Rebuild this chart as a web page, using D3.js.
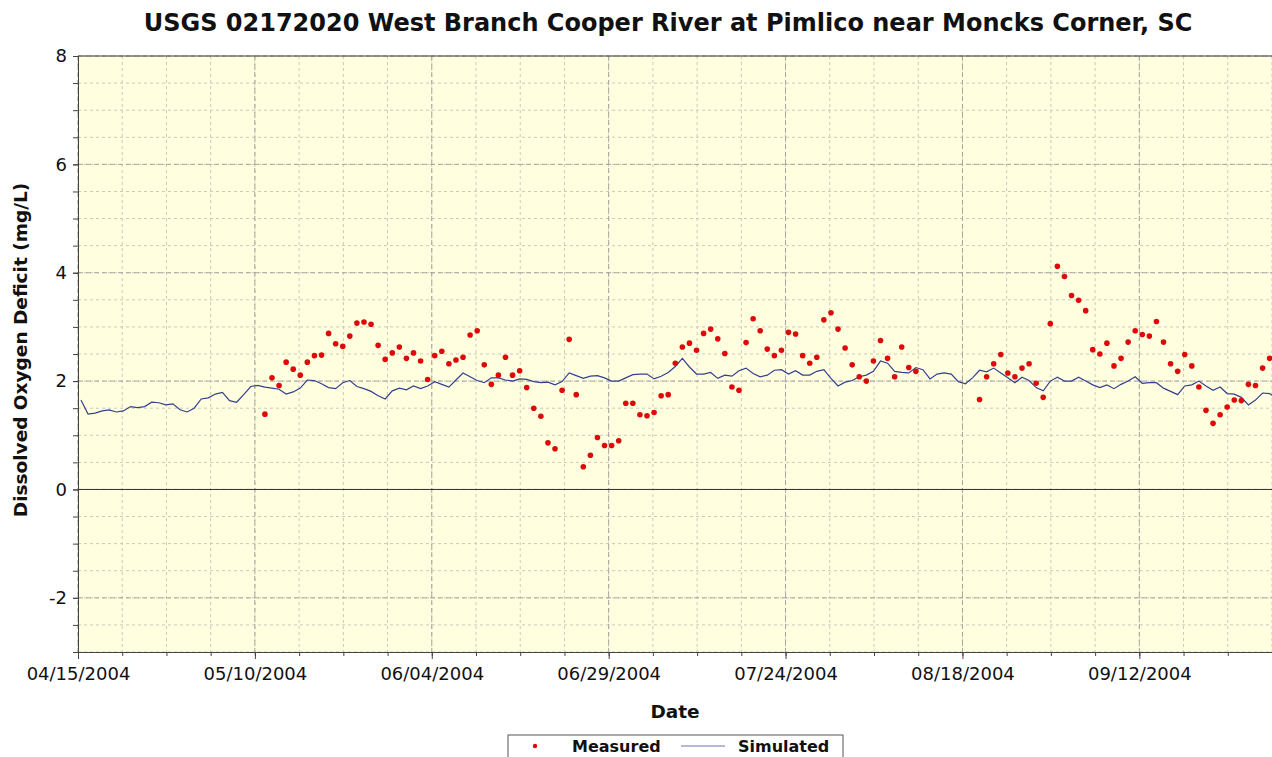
<!DOCTYPE html>
<html>
<head>
<meta charset="utf-8">
<script src="https://cdn.jsdelivr.net/npm/d3@7"></script>
<style>
  body { margin: 0; background: #fff; }
  svg { display: block; font-family: "DejaVu Sans", Verdana, sans-serif; }
</style>
</head>
<body>
<svg id="chart" width="1272" height="757"></svg>
<script>
// chart data
const title = 'USGS 02172020 West Branch Cooper River at Pimlico near Moncks Corner, SC';
const yLabel = 'Dissolved Oxygen Deficit (mg/L)';
const xLabel = 'Date';
const seriesNames = ['Measured', 'Simulated'];

const xStart = new Date(Date.UTC(2004, 3, 15));
const xEnd = new Date(Date.UTC(2004, 8, 30, 18));
const yMajorTicks = [-2, 0, 2, 4, 6, 8];

// simulated deficit, one value a day from 04/15/2004
const simStart = new Date(Date.UTC(2004, 3, 15, 10));
const simValues = [
    1.65, 1.39, 1.41, 1.45, 1.47, 1.43, 1.45, 1.53, 1.51, 1.53,
    1.61, 1.60, 1.56, 1.58, 1.47, 1.43, 1.50, 1.67, 1.69, 1.76,
    1.79, 1.64, 1.61, 1.75, 1.90, 1.92, 1.89, 1.87, 1.85, 1.76,
    1.80, 1.87, 2.02, 2.01, 1.95, 1.88, 1.86, 1.97, 2.01, 1.90,
    1.86, 1.81, 1.73, 1.67, 1.82, 1.87, 1.84, 1.91, 1.86, 1.91,
    1.99, 1.94, 1.89, 2.02, 2.15, 2.08, 2.01, 1.97, 2.06, 2.06,
    2.02, 2.00, 2.04, 2.03, 1.99, 1.97, 1.98, 1.93, 1.99, 2.15,
    2.10, 2.05, 2.09, 2.10, 2.06, 2.00, 2.00, 2.06, 2.12, 2.13,
    2.13, 2.04, 2.09, 2.16, 2.27, 2.42, 2.26, 2.13, 2.13, 2.16,
    2.05, 2.11, 2.09, 2.19, 2.24, 2.14, 2.08, 2.11, 2.20, 2.21,
    2.13, 2.19, 2.11, 2.11, 2.18, 2.21, 2.05, 1.91, 1.98, 2.01,
    2.08, 2.11, 2.18, 2.37, 2.33, 2.18, 2.16, 2.15, 2.25, 2.21,
    2.04, 2.13, 2.15, 2.13, 1.99, 1.95, 2.06, 2.20, 2.17, 2.24,
    2.15, 2.06, 1.97, 2.07, 2.01, 1.88, 1.82, 2.00, 2.07, 2.00,
    2.00, 2.07, 2.00, 1.93, 1.88, 1.93, 1.86, 1.94, 2.00, 2.08,
    1.96, 1.97, 1.97, 1.87, 1.81, 1.75, 1.91, 1.93, 2.00, 1.91,
    1.83, 1.89, 1.77, 1.76, 1.70, 1.56, 1.65, 1.78, 1.77, 1.68
];

// measured deficit, one value a day from 05/11/2004 (null = no sample)
const measStart = new Date(Date.UTC(2004, 4, 11, 10));
const measValues = [
    1.39, 2.06, 1.92, 2.35, 2.22, 2.11, 2.35, 2.47, 2.48, 2.88,
    2.69, 2.64, 2.83, 3.07, 3.09, 3.05, 2.66, 2.40, 2.52, 2.63,
    2.42, 2.52, 2.37, 2.03, 2.47, 2.55, 2.32, 2.39, 2.44, 2.85,
    2.93, 2.30, 1.94, 2.11, 2.44, 2.11, 2.19, 1.88, 1.50, 1.35,
    0.86, 0.75, 1.83, 2.77, 1.75, 0.42, 0.63, 0.96, 0.81, 0.81,
    0.90, 1.59, 1.59, 1.38, 1.36, 1.42, 1.73, 1.75, 2.33, 2.63,
    2.70, 2.57, 2.88, 2.96, 2.78, 2.51, 1.89, 1.83, 2.71, 3.15,
    2.93, 2.59, 2.47, 2.57, 2.90, 2.87, 2.47, 2.33, 2.44, 3.13,
    3.26, 2.96, 2.61, 2.30, 2.08, 2.00, 2.37, 2.75, 2.42, 2.08,
    2.63, 2.25, 2.18, null, null, null, null, null, null, null,
    null, 1.66, 2.08, 2.32, 2.49, 2.15, 2.08, 2.24, 2.32, 1.96,
    1.70, 3.06, 4.12, 3.93, 3.58, 3.49, 3.30, 2.58, 2.50, 2.70,
    2.28, 2.42, 2.72, 2.93, 2.86, 2.83, 3.10, 2.72, 2.32, 2.18,
    2.49, 2.28, 1.89, 1.46, 1.22, 1.38, 1.52, 1.65, 1.64, 1.94,
    1.92, 2.24, 2.42
];

const DAY = 864e5;
const W = 1272, H = 757;
const m = {top: 56, right: 0, bottom: 105, left: 78};
const plotW = W - m.left - m.right;
const plotH = H - m.top - m.bottom;

const svg = d3.select('#chart');

const x = d3.scaleUtc().domain([xStart, xEnd]).range([m.left, m.left + plotW]);
const y = d3.scaleLinear().domain([-3, 8]).range([m.top + plotH, m.top]);

const sim = simValues.map((v, i) => ({date: new Date(+simStart + i * DAY), v: v}));
const meas = measValues
    .map((v, i) => ({date: new Date(+measStart + i * DAY), v: v}))
    .filter(d => d.v !== null);

// tick positions: labels every 25 days, grid every quarter of that
const majorDates = d3.range(0, 169, 25).map(n => new Date(+xStart + n * DAY));
const minorDates = d3.range(0, 168.8, 6.25).map(n => new Date(+xStart + n * DAY));
const yMinor = d3.range(-3, 8.01, 0.5);

// plot background
svg.append('rect')
    .attr('x', m.left).attr('y', m.top)
    .attr('width', plotW).attr('height', plotH)
    .attr('fill', '#ffffe0');

// grid
const grid = svg.append('g');
grid.selectAll('.vmin').data(minorDates).join('line')
    .attr('x1', d => x(d)).attr('x2', d => x(d))
    .attr('y1', m.top).attr('y2', m.top + plotH)
    .attr('stroke', '#c9c9bd').attr('stroke-dasharray', '3,3');
grid.selectAll('.hmin').data(yMinor).join('line')
    .attr('x1', m.left).attr('x2', m.left + plotW)
    .attr('y1', d => y(d)).attr('y2', d => y(d))
    .attr('stroke', '#c9c9bd').attr('stroke-dasharray', '3,3');
grid.selectAll('.vmaj').data(majorDates).join('line')
    .attr('x1', d => x(d)).attr('x2', d => x(d))
    .attr('y1', m.top).attr('y2', m.top + plotH)
    .attr('stroke', '#a6a6a0').attr('stroke-dasharray', '5,3');
grid.selectAll('.hmaj').data(yMajorTicks).join('line')
    .attr('x1', m.left).attr('x2', m.left + plotW)
    .attr('y1', d => y(d)).attr('y2', d => y(d))
    .attr('stroke', '#a6a6a0').attr('stroke-dasharray', '5,3');

// zero line
svg.append('line')
    .attr('x1', m.left).attr('x2', m.left + plotW)
    .attr('y1', y(0)).attr('y2', y(0))
    .attr('stroke', '#333').attr('stroke-width', 1);

// frame
svg.append('line')
    .attr('x1', m.left).attr('x2', m.left + plotW)
    .attr('y1', m.top).attr('y2', m.top)
    .attr('stroke', '#444');

// axes
const xAxisMinor = d3.axisBottom(x).tickValues(minorDates).tickSize(4).tickFormat('');
const xAxis = d3.axisBottom(x).tickValues(majorDates).tickSize(7)
    .tickFormat(d3.utcFormat('%m/%d/%Y'));
const yAxisMinor = d3.axisLeft(y).tickValues(yMinor).tickSize(5).tickFormat('');
const yAxis = d3.axisLeft(y).tickValues(yMajorTicks).tickSize(5).tickFormat(d => String(d));

function styleAxis(g) {
    g.select('.domain').attr('stroke', '#444');
    g.selectAll('.tick line').attr('stroke', '#444');
    g.selectAll('text').attr('fill', '#111')
        .style('font-family', '"DejaVu Sans", Verdana, sans-serif')
        .style('font-size', '18px');
}

svg.append('g').attr('transform', `translate(0,${m.top + plotH})`).call(xAxisMinor).call(styleAxis);
svg.append('g').attr('transform', `translate(0,${m.top + plotH})`).call(xAxis).call(styleAxis)
    .selectAll('text').attr('dy', '1.0em');
svg.append('g').attr('transform', `translate(${m.left},0)`).call(yAxisMinor).call(styleAxis);
svg.append('g').attr('transform', `translate(${m.left},0)`).call(yAxis).call(styleAxis)
    .selectAll('text').attr('x', -11);

// series
const clip = svg.append('clipPath').attr('id', 'clip')
    .append('rect')
    .attr('x', m.left).attr('y', m.top)
    .attr('width', plotW).attr('height', plotH);

const line = d3.line().x(d => x(d.date)).y(d => y(d.v));
svg.append('path')
    .datum(sim)
    .attr('clip-path', 'url(#clip)')
    .attr('d', line)
    .attr('fill', 'none')
    .attr('stroke', '#34408f')
    .attr('stroke-width', 1.2);

svg.append('g').attr('clip-path', 'url(#clip)')
    .selectAll('circle').data(meas).join('circle')
    .attr('cx', d => x(d.date))
    .attr('cy', d => y(d.v))
    .attr('r', 2.8)
    .attr('fill', '#dd0a0a');

// titles
svg.append('text')
    .attr('x', 668).attr('y', 31)
    .attr('text-anchor', 'middle')
    .style('font-size', '24px').style('font-weight', 'bold')
    .attr('fill', '#111')
    .text(title);

svg.append('text')
    .attr('transform', `translate(27,${m.top + plotH / 2 - 4}) rotate(-90)`)
    .attr('text-anchor', 'middle')
    .style('font-size', '18.5px').style('font-weight', 'bold')
    .attr('fill', '#111')
    .text(yLabel);

svg.append('text')
    .attr('x', m.left + plotW / 2).attr('y', 718)
    .attr('text-anchor', 'middle')
    .style('font-size', '18.5px').style('font-weight', 'bold')
    .attr('fill', '#111')
    .text(xLabel);

// legend
const lg = svg.append('g').attr('transform', 'translate(508,735)');
lg.append('rect')
    .attr('x', 0).attr('y', 0).attr('width', 335).attr('height', 30)
    .attr('fill', '#fff').attr('stroke', '#555');
lg.append('circle').attr('cx', 27).attr('cy', 11).attr('r', 2.2).attr('fill', '#dd0a0a');
lg.append('line').attr('x1', 173).attr('x2', 217).attr('y1', 11).attr('y2', 11)
    .attr('stroke', '#6d72b0').attr('stroke-width', 1.2);
lg.selectAll('text.name').data(seriesNames).join('text')
    .attr('x', (d, i) => i === 0 ? 64 : 230)
    .attr('y', 17)
    .style('font-size', '16px').style('font-weight', 'bold')
    .attr('fill', '#111')
    .text(d => d);
</script>
</body>
</html>
